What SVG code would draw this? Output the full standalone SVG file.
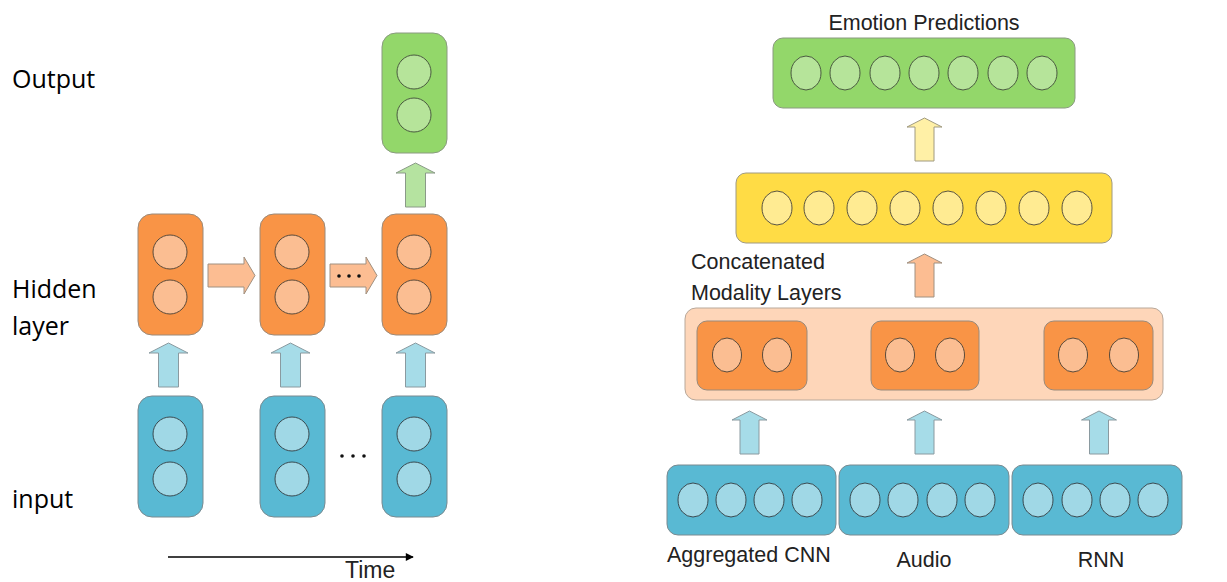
<svg xmlns="http://www.w3.org/2000/svg" width="1227" height="582" viewBox="0 0 1227 582">
<style>
.lbl{font-family:"Open Sans","Liberation Sans",sans-serif;font-size:25px;fill:#000}
.txt{font-family:"Liberation Sans",Arial,sans-serif;font-size:21.5px;fill:#222}
.org{fill:#F99446;stroke:#9a8a7a;stroke-width:1}
.orgc{fill:#FBBE92;stroke:#5a4a3a;stroke-width:1}
.grn{fill:#93D76A;stroke:#8a9a80;stroke-width:1}
.grnc{fill:#B6E49A;stroke:#4a5a40;stroke-width:1}
.blu{fill:#59B9D3;stroke:#7a8a90;stroke-width:1}
.bluc{fill:#A0D8E6;stroke:#3a4a50;stroke-width:1}
.yel{fill:#FFDC45;stroke:#a09a80;stroke-width:1}
.yelc{fill:#FFEB92;stroke:#5a5440;stroke-width:1}
.peach{fill:#FED6B9;stroke:#b8a89a;stroke-width:1}
.ablu{fill:#A6DCE8;stroke:#8a9aa0;stroke-width:1}
.agrn{fill:#B5E3A0;stroke:#8a9a88;stroke-width:1}
.aorg{fill:#FCBD92;stroke:#a09080;stroke-width:1}
.ayel{fill:#FFF0A6;stroke:#a09a80;stroke-width:1}
</style>
<defs>
<marker id="tip" viewBox="0 0 10 10" refX="9" refY="5" markerWidth="10" markerHeight="8" markerUnits="userSpaceOnUse" orient="auto"><path d="M0,0 L10,5 L0,10 Z" fill="#000"/></marker>
<path id="upL" d="M-10,44 L-10,10 L-19.5,10 L0,0 L19.5,10 L10,10 L10,44 Z"/>
<path id="upR" d="M-9.5,43 L-9.5,9 L-17.5,9 L0,0 L17.5,9 L9.5,9 L9.5,43 Z"/>
</defs>

<!-- Left panel labels -->
<text class="lbl" x="12" y="88">Output</text>
<text class="lbl" x="12" y="298">Hidden</text>
<text class="lbl" x="12" y="335">layer</text>
<text class="lbl" x="12" y="508">input</text>

<!-- Left panel nodes -->
<g id="out3"><rect class="grn" x="382" y="33" width="65" height="120" rx="14"/><circle class="grnc" cx="414" cy="72" r="17"/><circle class="grnc" cx="414" cy="115" r="17"/></g>
<g id="hid1"><rect class="org" x="138" y="214" width="65" height="121" rx="14"/><circle class="orgc" cx="170" cy="252" r="17"/><circle class="orgc" cx="170" cy="297" r="17"/></g>
<g id="hid2"><rect class="org" x="260" y="214" width="65" height="121" rx="14"/><circle class="orgc" cx="292" cy="252" r="17"/><circle class="orgc" cx="292" cy="297" r="17"/></g>
<g id="hid3"><rect class="org" x="382" y="214" width="65" height="121" rx="14"/><circle class="orgc" cx="414" cy="252" r="17"/><circle class="orgc" cx="414" cy="297" r="17"/></g>
<g id="in1"><rect class="blu" x="138" y="396" width="65" height="121" rx="14"/><circle class="bluc" cx="170" cy="434" r="17"/><circle class="bluc" cx="170" cy="479" r="17"/></g>
<g id="in2"><rect class="blu" x="260" y="396" width="65" height="121" rx="14"/><circle class="bluc" cx="292" cy="434" r="17"/><circle class="bluc" cx="292" cy="479" r="17"/></g>
<g id="in3"><rect class="blu" x="382" y="396" width="65" height="121" rx="14"/><circle class="bluc" cx="414" cy="434" r="17"/><circle class="bluc" cx="414" cy="479" r="17"/></g>
<g id="dots-in"><circle cx="342" cy="456" r="1.8" fill="#111"/><circle cx="353" cy="456" r="1.8" fill="#111"/><circle cx="364" cy="456" r="1.8" fill="#111"/></g>

<!-- Right panel nodes -->
<text class="txt" x="924" y="30" text-anchor="middle">Emotion Predictions</text>
<g id="emotion"><rect class="grn" x="773" y="38" width="302" height="70" rx="10"/>
<ellipse class="grnc" cx="806" cy="73" rx="15" ry="17"/><ellipse class="grnc" cx="845" cy="73" rx="15" ry="17"/><ellipse class="grnc" cx="885" cy="73" rx="15" ry="17"/><ellipse class="grnc" cx="924" cy="73" rx="15" ry="17"/><ellipse class="grnc" cx="963" cy="73" rx="15" ry="17"/><ellipse class="grnc" cx="1003" cy="73" rx="15" ry="17"/><ellipse class="grnc" cx="1042" cy="73" rx="15" ry="17"/></g>
<g id="fused"><rect class="yel" x="736" y="173" width="376" height="70" rx="10"/>
<ellipse class="yelc" cx="777" cy="208" rx="15" ry="17"/><ellipse class="yelc" cx="819" cy="208" rx="15" ry="17"/><ellipse class="yelc" cx="862" cy="208" rx="15" ry="17"/><ellipse class="yelc" cx="905" cy="208" rx="15" ry="17"/><ellipse class="yelc" cx="948" cy="208" rx="15" ry="17"/><ellipse class="yelc" cx="991" cy="208" rx="15" ry="17"/><ellipse class="yelc" cx="1034" cy="208" rx="15" ry="17"/><ellipse class="yelc" cx="1077" cy="208" rx="15" ry="17"/></g>
<text class="txt" x="691" y="269">Concatenated</text>
<text class="txt" x="691" y="300">Modality Layers</text>
<g id="concat"><rect class="peach" x="685" y="308" width="478" height="92" rx="11"/>
<g id="mod1"><rect class="org" x="697" y="321" width="110" height="69" rx="10"/><ellipse class="orgc" cx="727" cy="355" rx="14.5" ry="17"/><ellipse class="orgc" cx="777" cy="355" rx="14.5" ry="17"/></g>
<g id="mod2"><rect class="org" x="871" y="321" width="108" height="69" rx="10"/><ellipse class="orgc" cx="900" cy="355" rx="14.5" ry="17"/><ellipse class="orgc" cx="950" cy="355" rx="14.5" ry="17"/></g>
<g id="mod3"><rect class="org" x="1044" y="321" width="109" height="69" rx="10"/><ellipse class="orgc" cx="1073" cy="355" rx="14.5" ry="17"/><ellipse class="orgc" cx="1124" cy="355" rx="14.5" ry="17"/></g></g>
<g id="cnn"><rect class="blu" x="667" y="465" width="169" height="70" rx="11"/>
<ellipse class="bluc" cx="693" cy="500" rx="15" ry="17"/><ellipse class="bluc" cx="731" cy="500" rx="15" ry="17"/><ellipse class="bluc" cx="769" cy="500" rx="15" ry="17"/><ellipse class="bluc" cx="807" cy="500" rx="15" ry="17"/></g>
<g id="audio"><rect class="blu" x="839" y="465" width="170" height="70" rx="11"/>
<ellipse class="bluc" cx="865" cy="500" rx="15" ry="17"/><ellipse class="bluc" cx="903" cy="500" rx="15" ry="17"/><ellipse class="bluc" cx="942" cy="500" rx="15" ry="17"/><ellipse class="bluc" cx="980" cy="500" rx="15" ry="17"/></g>
<g id="rnn"><rect class="blu" x="1012" y="465" width="170" height="70" rx="11"/>
<ellipse class="bluc" cx="1038" cy="500" rx="15" ry="17"/><ellipse class="bluc" cx="1077" cy="500" rx="15" ry="17"/><ellipse class="bluc" cx="1115" cy="500" rx="15" ry="17"/><ellipse class="bluc" cx="1153" cy="500" rx="15" ry="17"/></g>
<text class="txt" x="667" y="562">Aggregated CNN</text>
<text class="txt" x="924" y="567" text-anchor="middle">Audio</text>
<text class="txt" x="1101" y="567" text-anchor="middle">RNN</text>

<!-- Connectors -->
<g id="connectors">
<use href="#upL" class="ablu" x="168.5" y="343"/>
<use href="#upL" class="ablu" x="290.5" y="343"/>
<use href="#upL" class="ablu" x="415.5" y="343"/>
<use href="#upL" class="agrn" x="415.5" y="163"/>
<path class="aorg" d="M208,264 L244,264 L244,257 L255,275.5 L244,294 L244,287 L208,287 Z"/>
<path class="aorg" d="M330,264 L366,264 L366,257 L377,275.5 L366,294 L366,287 L330,287 Z"/>
<circle cx="339" cy="276" r="1.8" fill="#111"/><circle cx="349" cy="276" r="1.8" fill="#111"/><circle cx="359" cy="276" r="1.8" fill="#111"/>
<line x1="168" y1="557" x2="413" y2="557" stroke="#000" stroke-width="1.5" marker-end="url(#tip)"/>
<use href="#upR" class="ayel" x="924.5" y="118"/>
<use href="#upR" class="aorg" x="924.5" y="254"/>
<use href="#upR" class="ablu" x="749.5" y="411"/>
<use href="#upR" class="ablu" x="924.5" y="411"/>
<use href="#upR" class="ablu" x="1099" y="411"/>
</g>
<text class="txt" x="345" y="578" style="font-size:23px">Time</text>
</svg>
